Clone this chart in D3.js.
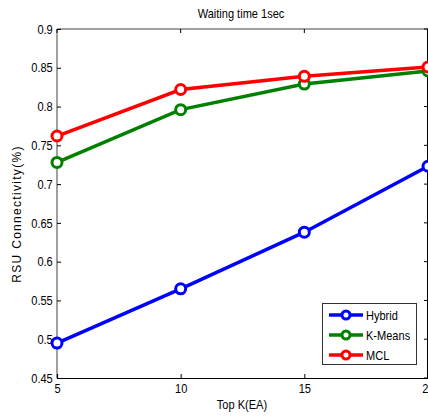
<!DOCTYPE html>
<html><head><meta charset="utf-8">
<script src="https://cdn.jsdelivr.net/npm/d3@7"></script>
<style>body{margin:0;background:#fff;} svg{display:block;font-family:Arial,"Liberation Sans",sans-serif;}</style>
</head><body><svg id="c" width="428" height="416"></svg>
<script>
const xValues = [5, 10, 15, 20];
const hybrid = [0.495, 0.565, 0.638, 0.723];
const kmeans = [0.728, 0.796, 0.829, 0.846];
const mcl = [0.762, 0.822, 0.839, 0.851];
const yTicks = [0.45, 0.5, 0.55, 0.6, 0.65, 0.7, 0.75, 0.8, 0.85, 0.9];
const xTicks = [5, 10, 15, 20];
const seriesNames = ["Hybrid", "K-Means", "MCL"];
const seriesColors = ["#0000ff", "#008000", "#ff0000"];

const FONT = 'Arial,"Liberation Sans",sans-serif';
const SX = 0.85;
const svg = d3.select("#c");
const L = 57, R = 428, T = 29, B = 378;
const x = d3.scaleLinear().domain([5, 20]).range([L, R]);
const y = d3.scaleLinear().domain([0.45, 0.9]).range([B, T]);

function label(px, py, txt, anchor, size) {
  const g = svg.append("g").attr("transform", `translate(${px},${py}) scale(${SX},1)`);
  return g.append("text").attr("text-anchor", anchor).attr("font-size", size).attr("fill", "#000").text(txt);
}

// frame
svg.append("line").attr("x1", L).attr("x2", R).attr("y1", T).attr("y2", T).attr("stroke", "#808080").attr("stroke-width", 1.5);
svg.append("line").attr("x1", L).attr("x2", L).attr("y1", T).attr("y2", B).attr("stroke", "#808080").attr("stroke-width", 1.5);
svg.append("line").attr("x1", R - 0.5).attr("x2", R - 0.5).attr("y1", T).attr("y2", B).attr("stroke", "#000");

const yAxis = svg.append("g").attr("transform", `translate(${L},0)`)
  .call(d3.axisLeft(y).tickValues(yTicks).tickSize(-4).tickPadding(5).tickFormat(d => d3.format("")(+d.toFixed(2))));
yAxis.select(".domain").remove();
yAxis.selectAll("line").attr("stroke", "#000");
yAxis.selectAll("text").attr("font-size", 13).attr("fill", "#000").attr("font-family", FONT)
  .attr("transform", `scale(${SX},1)`);

// right ticks
svg.append("g").selectAll("line").data(yTicks).join("line")
  .attr("x1", R - 4).attr("x2", R).attr("y1", d => y(d)).attr("y2", d => y(d)).attr("stroke", "#000");
// top ticks
svg.append("g").selectAll("line").data(xTicks).join("line")
  .attr("x1", d => x(d)).attr("x2", d => x(d)).attr("y1", T).attr("y2", T + 4).attr("stroke", "#000");

const xAxis = svg.append("g").attr("transform", `translate(0,${B})`)
  .call(d3.axisBottom(x).tickValues(xTicks).tickSize(-4).tickPadding(6));
xAxis.select(".domain").attr("stroke", "#000").attr("stroke-width", 1.2);
xAxis.selectAll("line").attr("stroke", "#000");
xAxis.selectAll("text").attr("font-size", 13).attr("fill", "#000").attr("font-family", FONT)
  .attr("transform", `scale(${SX},1)`);

const allSeries = [hybrid, kmeans, mcl];
const line = d3.line().x((d, i) => x(xValues[i])).y(d => y(d));
allSeries.forEach((s, k) => {
  svg.append("path").datum(s).attr("d", line).attr("fill", "none")
    .attr("stroke", seriesColors[k]).attr("stroke-width", 3.5);
  svg.append("g").selectAll("circle").data(s).join("circle")
    .attr("cx", (d, i) => x(xValues[i])).attr("cy", d => y(d)).attr("r", 5)
    .attr("fill", "#fff").attr("stroke", seriesColors[k]).attr("stroke-width", 3);
});

// title & labels
label(241, 18, "Waiting time 1sec", "middle", 13);
label(242, 409, "Top K(EA)", "middle", 13);
svg.append("text").attr("transform", "translate(21,214) rotate(-90)").attr("text-anchor", "middle")
  .attr("font-size", 12).attr("letter-spacing", 1.3).attr("font-family", FONT).text("RSU Connectivity(%)");

// legend
const lg = svg.append("g");
lg.append("rect").attr("x", 322.5).attr("y", 303.5).attr("width", 94).attr("height", 61).attr("fill", "#fff").attr("stroke", "#333").attr("stroke-width", 1);
seriesNames.forEach((n, k) => {
  const yy = 315 + k * 20;
  lg.append("line").attr("x1", 329).attr("x2", 363).attr("y1", yy).attr("y2", yy).attr("stroke", seriesColors[k]).attr("stroke-width", 3.5);
  lg.append("circle").attr("cx", 346).attr("cy", yy).attr("r", 4).attr("fill", "#fff").attr("stroke", seriesColors[k]).attr("stroke-width", 3);
  label(366, yy + 5, n, "start", 13);
});
</script></body></html>
